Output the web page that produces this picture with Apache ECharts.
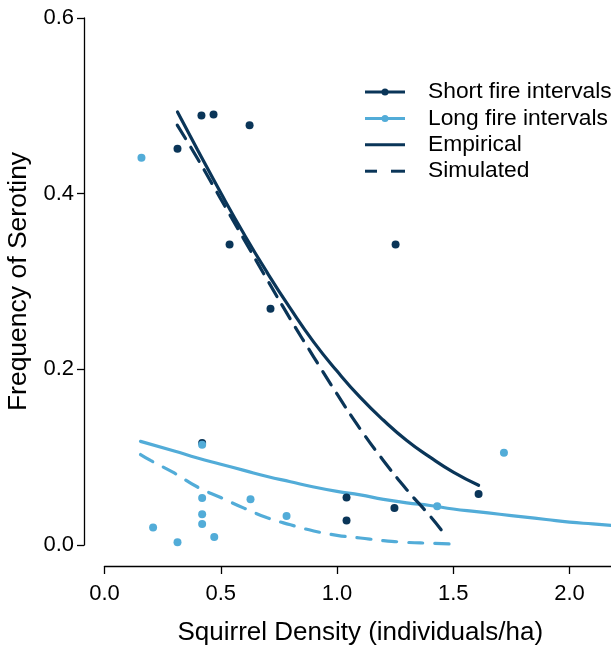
<!DOCTYPE html>
<html>
<head>
<meta charset="utf-8">
<script src="https://cdn.jsdelivr.net/npm/echarts@6/dist/echarts.min.js"></script>
<style>html,body{margin:0;padding:0;background:#fff;}#c{width:611px;height:648px;}</style>
</head>
<body>
<div id="c"></div>
<script>
// ---- data ----
var shortPoints = [[0.314,0.451],[0.417,0.489],[0.469,0.490],[0.624,0.478],[0.538,0.342],[0.714,0.269],
  [0.420,0.116],[1.041,0.054],[1.041,0.028],[1.247,0.042],[1.252,0.342],[1.609,0.058]];
var longPoints = [[0.159,0.441],[0.420,0.114],[0.420,0.0535],[0.628,0.052],[0.420,0.035],[0.420,0.024],
  [0.209,0.020],[0.314,0.003],[0.472,0.009],[0.783,0.033],[1.431,0.044],[1.718,0.105]];
var shortEmpirical = [[0.314,0.493],[0.4,0.450],[0.5,0.401],[0.6,0.354],[0.7,0.310],[0.8,0.269],[0.9,0.231],
  [1.0,0.198],[1.1,0.168],[1.2,0.142],[1.3,0.119],[1.4,0.100],[1.5,0.083],[1.609,0.068]];
var shortSimulated = [[0.313,0.478],[0.4,0.440],[0.5,0.394],[0.6,0.348],[0.7,0.302],[0.8,0.257],[0.9,0.214],
  [1.0,0.172],[1.1,0.132],[1.2,0.096],[1.3,0.063],[1.4,0.033],[1.452,0.016]];
var longEmpirical = [[0.155,0.118],[0.3,0.107],[0.4,0.099],[0.5,0.092],[0.6,0.085],[0.7,0.078],[0.8,0.072],
  [0.9,0.066],[1.0,0.061],[1.1,0.057],[1.2,0.052],[1.3,0.048],[1.4,0.045],[1.5,0.041],[1.6,0.038],
  [1.7,0.035],[1.8,0.032],[1.9,0.029],[2.0,0.026],[2.1,0.024],[2.2,0.022]];
var longSimulated = [[0.155,0.103],[0.2,0.096],[0.3,0.082],[0.4,0.066],[0.5,0.054],[0.6,0.042],[0.7,0.031],
  [0.8,0.023],[0.9,0.016],[1.0,0.011],[1.1,0.008],[1.2,0.005],[1.3,0.003],[1.4,0.002],[1.5,0.001]];
var xTicks = [0, 0.5, 1.0, 1.5, 2.0];
var yTicks = [0, 0.2, 0.4, 0.6];
var legendNames = ['Short fire intervals', 'Long fire intervals', 'Empirical', 'Simulated'];

var DARK = '#0a3558', LIGHT = '#52acd8';
var FONT = 'Liberation Sans, Arial, Helvetica, sans-serif';

var chart = echarts.init(document.getElementById('c'), null, {renderer: 'canvas'});

function lineSeries(data, color, dash) {
  return {type: 'line', data: data, smooth: true, showSymbol: false, silent: true,
    lineStyle: {color: color, width: 3.2, type: dash || 'solid', cap: 'round'},
    z: 2, clip: false};
}

// legend drawn as graphic elements
var legendGraphics = [];
var lx = 365, ly0 = 92, dy = 26.4;
legendNames.forEach(function (name, i) {
  var y = ly0 + i * dy;
  var color = i === 1 ? LIGHT : DARK;
  if (i < 3) {
    legendGraphics.push({type: 'line', shape: {x1: lx, y1: y, x2: lx + 40, y2: y},
      style: {stroke: color, lineWidth: 3}});
  } else {
    legendGraphics.push({type: 'line', shape: {x1: lx, y1: y, x2: lx + 12, y2: y}, style: {stroke: color, lineWidth: 3}});
    legendGraphics.push({type: 'line', shape: {x1: lx + 26, y1: y, x2: lx + 40, y2: y}, style: {stroke: color, lineWidth: 3}});
  }
  if (i < 2) {
    legendGraphics.push({type: 'circle', shape: {cx: lx + 20, cy: y, r: 3.5}, style: {fill: color}});
  }
  legendGraphics.push({type: 'text', x: 428, y: y, style: {text: name, fill: '#000', font: '22.8px ' + FONT,
    textVerticalAlign: 'middle', verticalAlign: 'middle'}});
});

var option = {
  animation: false,
  backgroundColor: '#fff',
  grid: {left: 104.5, right: -5, top: 18, bottom: 103, containLabel: false, outerBoundsMode: 'none'},
  xAxis: {
    type: 'value', min: 0, max: 2.2, interval: 0.5, offset: 21,
    name: 'Squirrel Density (individuals/ha)', nameLocation: 'middle', nameGap: 54,
    nameTextStyle: {fontFamily: FONT, fontSize: 26, color: '#000'},
    axisLine: {show: true, onZero: false, lineStyle: {color: '#000', width: 1.3}},
    axisTick: {show: true, length: 8, customValues: xTicks, lineStyle: {color: '#000', width: 1.3}},
    axisLabel: {customValues: xTicks, margin: 17, fontFamily: FONT, fontSize: 22, color: '#000',
      formatter: function (v) { return v.toFixed(1); }},
    splitLine: {show: false}
  },
  yAxis: {
    type: 'value', min: 0, max: 0.6, interval: 0.2, offset: 20.5,
    name: 'Frequency of Serotiny', nameLocation: 'middle', nameGap: 45,
    nameTextStyle: {fontFamily: FONT, fontSize: 26.5, color: '#000'},
    axisLine: {show: true, onZero: false, lineStyle: {color: '#000', width: 1.3}},
    axisTick: {show: true, length: 7, lineStyle: {color: '#000', width: 1.3}},
    axisLabel: {margin: 10, fontFamily: FONT, fontSize: 22, color: '#000',
      formatter: function (v) { return v.toFixed(1); }},
    splitLine: {show: false}
  },
  graphic: legendGraphics,
  series: [
    lineSeries(longEmpirical, LIGHT),
    lineSeries(longSimulated, LIGHT, [14, 12]),
    lineSeries(shortEmpirical, DARK),
    lineSeries(shortSimulated, DARK, [16, 10]),
    {type: 'scatter', name: 'Short fire intervals', data: shortPoints, symbolSize: 8,
      itemStyle: {color: DARK, opacity: 1}, z: 3},
    {type: 'scatter', name: 'Long fire intervals', data: longPoints, symbolSize: 8,
      itemStyle: {color: LIGHT, opacity: 1}, z: 4}
  ]
};
chart.setOption(option);
</script>
</body>
</html>
